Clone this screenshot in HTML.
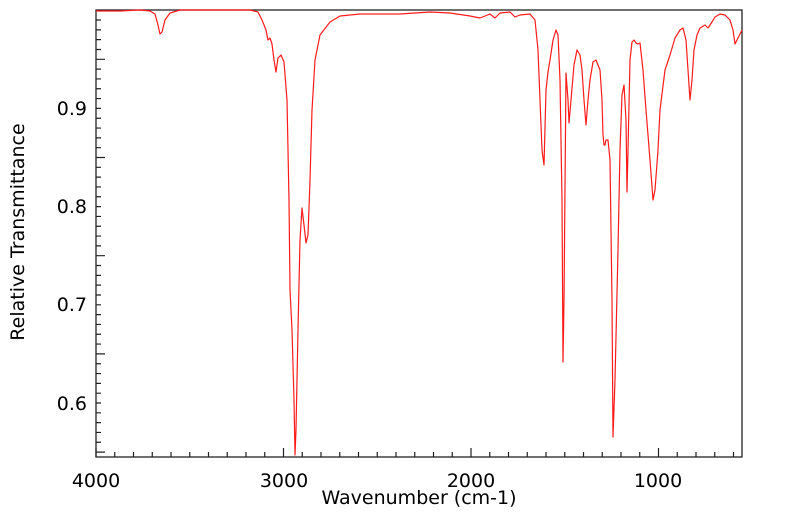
<!DOCTYPE html>
<html><head><style>
body{margin:0;background:#fff;}
svg{display:block;font-family:"DejaVu Sans","Liberation Sans",sans-serif;}
</style></head><body>
<svg width="799" height="516" xmlns="http://www.w3.org/2000/svg">
<rect x="96" y="10" width="646" height="447" fill="#fff" stroke="#222" stroke-width="1.3"/>
<g id="ticks" stroke="#222" stroke-width="1.2"></g>
<polyline fill="none" stroke="#ff1a1a" stroke-width="1.2" stroke-linejoin="round" points="96,11 120,11 140,10 150,11 155,14 158,25 160,34 162,32 165,20 170,13 180,10 250,10 258,12 262,20 266,30 268,40 270,38 272,44 274,60 276,72 278,58 281,55 284,62 287,100 289,200 290,290 292,330 294,400 295,455 296,430 298,330 300,240 302,208 304,225 306,243 308,235 310,180 312,110 315,60 320,35 330,22 340,16 360,14 400,14 430,12 450,13 470,16 480,18 490,14 495,18 500,13 510,12 515,17 520,15 530,14 535,20 538,50 540,100 542,150 544,165 546,90 548,72 550,60 553,40 556,30 558,35 560,80 562,200 563,362 564,300 566,73 568,100 569,123 571,100 574,65 577,50 580,55 582,70 584,100 586,125 588,100 590,80 593,62 596,60 600,70 602,100 603,135 604,145 605,145 606,140 608,140 610,160 612,300 613,437 615,380 618,250 620,150 622,95 624,85 626,120 627,192 628,150 630,60 632,42 634,40 636,43 638,44 640,43 643,70 646,110 650,160 653,200 655,190 658,150 660,110 665,70 670,55 675,38 680,30 683,28 686,40 688,70 690,100 692,80 694,50 697,35 700,28 705,25 708,28 712,22 715,17 720,14 725,15 730,20 733,30 735,44 738,38 742,30"/>
<g font-size="19" fill="#000" text-anchor="middle">
<text x="96" y="487">4000</text><text x="284" y="487">3000</text><text x="471" y="487">2000</text><text x="658" y="487">1000</text>
<text x="419" y="504">Wavenumber (cm-1)</text>
</g>
<g font-size="19" fill="#000" text-anchor="end">
<text x="87" y="115">0.9</text><text x="87" y="213">0.8</text><text x="87" y="311">0.7</text><text x="87" y="410">0.6</text>
</g>
<text transform="translate(24,232) rotate(-90)" font-size="19" text-anchor="middle">Relative Transmittance</text>
<script>
var g=document.getElementById('ticks'),s='';
for(var v=4000;v>=600;v-=100){var x=96+(4000-v)*0.1875;var L=(v%1000==0)?9:5;s+='M'+x+' 457V'+(457-L);}
for(var i=0;i<=45;i++){var y=403-(i-5)*9.82;if(y<10||y>457)continue;var L=(i%10==0)?9:5;s+='M96 '+y+'H'+(96+L);}
var p=document.createElementNS('http://www.w3.org/2000/svg','path');p.setAttribute('d',s);g.appendChild(p);
</script>
</svg>
</body></html>
